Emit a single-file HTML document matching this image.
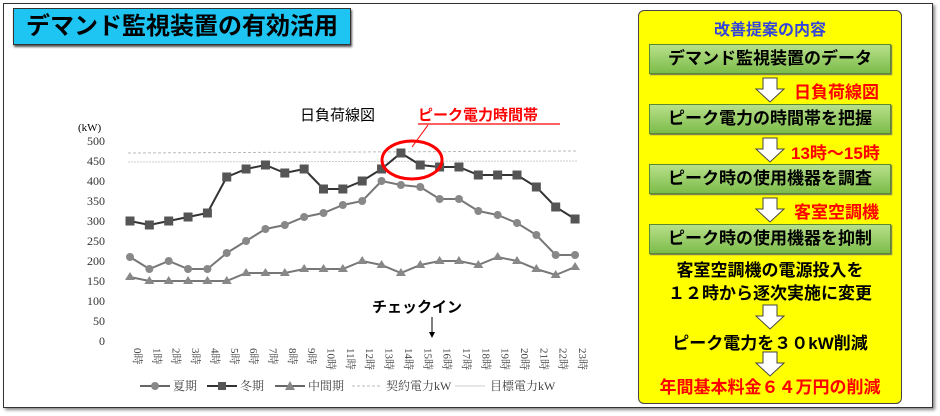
<!DOCTYPE html><html><head><meta charset="utf-8"><style>
body{margin:0;width:940px;height:416px;background:#fff;overflow:hidden;font-family:"Liberation Sans","Noto Sans CJK JP",sans-serif;position:relative}
.frame{position:absolute;left:3px;top:3px;width:928px;height:403px;border:1px solid #333;box-shadow:2px 2px 3px #888}
.title{position:absolute;left:13px;top:8px;width:336px;height:35px;background:#1ec4f2;border:1px solid #333;box-shadow:1px 2px 2px #555;font-weight:bold;font-size:24px;line-height:35px;text-align:center;color:#000}
.panel{position:absolute;left:638px;top:10px;width:262px;height:392px;background:#ffff00;border:1px solid #444;border-radius:6px}
.bar{position:absolute;left:10px;width:240px;height:28px;background:linear-gradient(#b8e08a,#7cbc4a);border:1px solid #5a8a30;box-shadow:1px 1px 1px #666;font-weight:bold;font-size:17px;line-height:28px;text-align:center}
.t{position:absolute;font-weight:bold;white-space:nowrap}
.red{color:#f00}
.ar{position:absolute;left:115px}
</style></head><body>
<div class="frame"></div>
<div class="title">デマンド監視装置の有効活用</div>
<svg width="940" height="416" style="position:absolute;left:0;top:0" font-family="Liberation Serif,Noto Serif CJK SC,serif">
<text x="300" y="120" font-size="15" font-family="Noto Sans CJK JP,sans-serif">日負荷線図</text>
<text x="418" y="120" font-size="15" fill="#f00" font-weight="bold" font-family="Noto Sans CJK JP,sans-serif">ピーク電力時間帯</text>
<line x1="418" y1="124" x2="560" y2="124" stroke="#f00" stroke-width="1.2"/>
<line x1="428" y1="125" x2="412" y2="147" stroke="#f00"/>
<text x="78" y="131" font-size="11">(kW)</text>
<g font-size="12" text-anchor="end" fill="#333">
<text x="105" y="145">500</text><text x="105" y="165">450</text><text x="105" y="185">400</text><text x="105" y="205">350</text><text x="105" y="225">300</text><text x="105" y="245">250</text><text x="105" y="265">200</text><text x="105" y="285">150</text><text x="105" y="305">100</text><text x="105" y="325">50</text><text x="105" y="345">0</text></g>
<line x1="128" y1="153" x2="577" y2="151" stroke="#bbb" stroke-dasharray="3,2"/>
<line x1="128" y1="162" x2="577" y2="161" stroke="#ccc" stroke-dasharray="2,1"/>
<g id="g"></g>
<ellipse cx="412" cy="160" rx="30" ry="19" fill="none" stroke="#f00" stroke-width="3"/>
<text x="372" y="312" font-size="15" font-weight="bold" font-family="Noto Sans CJK JP,sans-serif">チェックイン</text>
<line x1="432" y1="317" x2="432" y2="334" stroke="#000"/><path d="M429,332 L435,332 L432,338Z"/>
<g font-size="12" fill="#444">
<line x1="140" y1="386" x2="170" y2="386" stroke="#666" stroke-width="2"/><circle cx="155" cy="386" r="4" fill="#888"/><text x="173" y="390">夏期</text>
<line x1="207" y1="386" x2="237" y2="386" stroke="#333" stroke-width="2"/><rect x="218" y="382" width="8" height="8" fill="#555"/><text x="240" y="390">冬期</text>
<line x1="275" y1="386" x2="305" y2="386" stroke="#666" stroke-width="2"/><path d="M290,381 L295,390 L285,390Z" fill="#888"/><text x="308" y="390">中間期</text>
<line x1="352" y1="386" x2="380" y2="386" stroke="#bbb" stroke-dasharray="3,2"/><text x="386" y="390">契約電力kW</text>
<line x1="455" y1="386" x2="485" y2="386" stroke="#ccc"/><text x="490" y="390">目標電力kW</text></g>
</svg>
<div class="panel">
<div class="t" style="left:0;width:262px;text-align:center;top:5px;color:#3344dd;font-size:16px">改善提案の内容</div>
<div class="bar" style="top:33px">デマンド監視装置のデータ</div>
<svg class="ar" style="top:66px" width="32" height="26"><path d="M9,1 H23 V12 H30 L16,25 L2,12 H9Z" fill="#fff" stroke="#444"/></svg>
<div class="t red" style="left:155px;top:67px;font-size:17px">日負荷線図</div>
<div class="bar" style="top:93px">ピーク電力の時間帯を把握</div>
<svg class="ar" style="top:126px" width="32" height="26"><path d="M9,1 H23 V12 H30 L16,25 L2,12 H9Z" fill="#fff" stroke="#444"/></svg>
<div class="t red" style="left:152px;top:128px;font-size:17px">13時～15時</div>
<div class="bar" style="top:153px">ピーク時の使用機器を調査</div>
<svg class="ar" style="top:186px" width="32" height="26"><path d="M9,1 H23 V12 H30 L16,25 L2,12 H9Z" fill="#fff" stroke="#444"/></svg>
<div class="t red" style="left:155px;top:187px;font-size:17px">客室空調機</div>
<div class="bar" style="top:213px">ピーク時の使用機器を抑制</div>
<div class="t" style="left:0;width:262px;text-align:center;top:248px;font-size:17px;line-height:23px">客室空調機の電源投入を<br>１２時から逐次実施に変更</div>
<svg class="ar" style="top:293px" width="32" height="26"><path d="M9,1 H23 V12 H30 L16,25 L2,12 H9Z" fill="#fff" stroke="#444"/></svg>
<div class="t" style="left:0;width:262px;text-align:center;top:318px;font-size:17px">ピーク電力を３０kW削減</div>
<svg class="ar" style="top:340px" width="32" height="26"><path d="M9,1 H23 V12 H30 L16,25 L2,12 H9Z" fill="#fff" stroke="#444"/></svg>
<div class="t red" style="left:0;width:262px;text-align:center;top:362px;font-size:17px">年間基本料金６４万円の削減</div>
</div>
<script>
var S=[210,180,200,180,180,220,250,280,290,310,320,340,350,400,390,385,355,355,325,315,295,265,215,215];
var W=[300,290,300,310,320,410,430,440,420,430,380,380,400,430,470,440,435,435,415,415,415,385,335,305];
var M=[160,150,150,150,150,150,170,170,170,180,180,180,200,190,170,190,200,200,190,210,200,180,165,185];
function X(i){return 130+i*19.35}function Y(v){return 341-v*0.4}
var h='';
function line(a,c){return '<polyline fill="none" stroke="'+c+'" stroke-width="2" points="'+a.map(function(v,i){return X(i)+','+Y(v)}).join(' ')+'"/>'}
h+=line(M,'#777')+line(S,'#777')+line(W,'#333');
for(var i=0;i<24;i++){
h+='<path d="M'+X(i)+','+(Y(M[i])-5)+' l5,8 l-10,0Z" fill="#888"/>';
h+='<circle cx="'+X(i)+'" cy="'+Y(S[i])+'" r="4" fill="#888"/>';
h+='<rect x="'+(X(i)-4.5)+'" y="'+(Y(W[i])-4.5)+'" width="9" height="9" fill="#555"/>';
h+='<text font-size="11" fill="#444" transform="translate('+(X(i)+4)+',348) rotate(90)" font-family="Liberation Serif,Noto Serif CJK SC,serif">'+i+'時</text>';
}
document.getElementById('g').innerHTML=h;
</script>
</body></html>
